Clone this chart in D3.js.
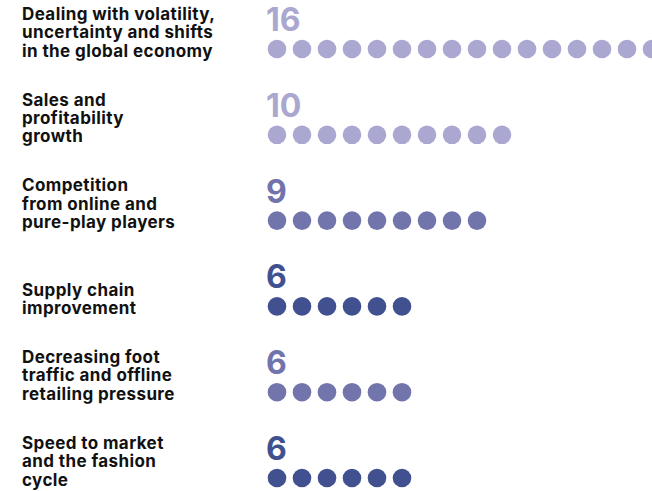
<!doctype html>
<html>

<head>
  <meta charset="utf-8">
  <title>challenges dot chart</title>
  <style>
    body {
      margin: 0;
      background: #fff;
    }
    #chart {
      width: 652px;
      height: 491px;
      overflow: hidden;
    }
    svg text {
      font-family: Inter, "Liberation Sans", sans-serif;
      font-weight: 700;
    }
  </style>
</head>

<body>
  <div id="chart"></div>
  <script src="https://cdnjs.cloudflare.com/ajax/libs/d3/7.8.5/d3.min.js"></script>
  <script>
    const categories = [
      ['Dealing with volatility,', 'uncertainty and shifts', 'in the global economy'],
      ['Sales and', 'profitability', 'growth'],
      ['Competition', 'from online and', 'pure-play players'],
      ['Supply chain', 'improvement'],
      ['Decreasing foot', 'traffic and offline', 'retailing pressure'],
      ['Speed to market', 'and the fashion', 'cycle']
    ];
    const values = [16, 10, 9, 6, 6, 6];
    const colors = ['#aaa7d1', '#aaa7d1', '#7274ac', '#41518f', '#7274ac', '#41518f'];

    const width = 652;
    const height = 491;

    const svg = d3.select('#chart').append('svg')
      .attr('width', width)
      .attr('height', height);

    const rows = categories.map((c, i) => ({ label: c, value: values[i], color: colors[i], key: i }));

    // one row per category, dots line up on the same x grid
    const y = d3.scalePoint()
      .domain(rows.map(d => d.key))
      .range([49, 478]);

    const x = d3.scaleLinear()
      .domain([0, 15])
      .range([277, 652]);

    const r = 9.3;

    const row = svg.selectAll('g.row')
      .data(rows)
      .enter().append('g')
      .attr('class', 'row')
      .attr('transform', d => `translate(0,${y(d.key)})`);

    // labels are bottom-aligned with the dot line
    row.append('text')
      .attr('x', 22)
      .attr('fill', '#111')
      .style('font-size', '17px')
      .style('letter-spacing', '0.4px')
      .selectAll('tspan')
      .data(d => d.label.map((t, j) => ({ t, j, n: d.label.length })))
      .enter().append('tspan')
      .attr('x', 22)
      .attr('y', d => 7.5 - (d.n - 1 - d.j) * 18.4)
      .text(d => d.t);

    row.append('text')
      .attr('x', 266)
      .attr('y', -18)
      .attr('fill', d => d.color)
      .style('font-size', '32px')
      .text(d => d.value);

    row.selectAll('circle')
      .data(d => d3.range(d.value).map(i => ({ i, color: d.color })))
      .enter().append('circle')
      .attr('cx', d => x(d.i))
      .attr('cy', 0)
      .attr('r', r)
      .attr('fill', d => d.color);
  </script>
</body>

</html>
